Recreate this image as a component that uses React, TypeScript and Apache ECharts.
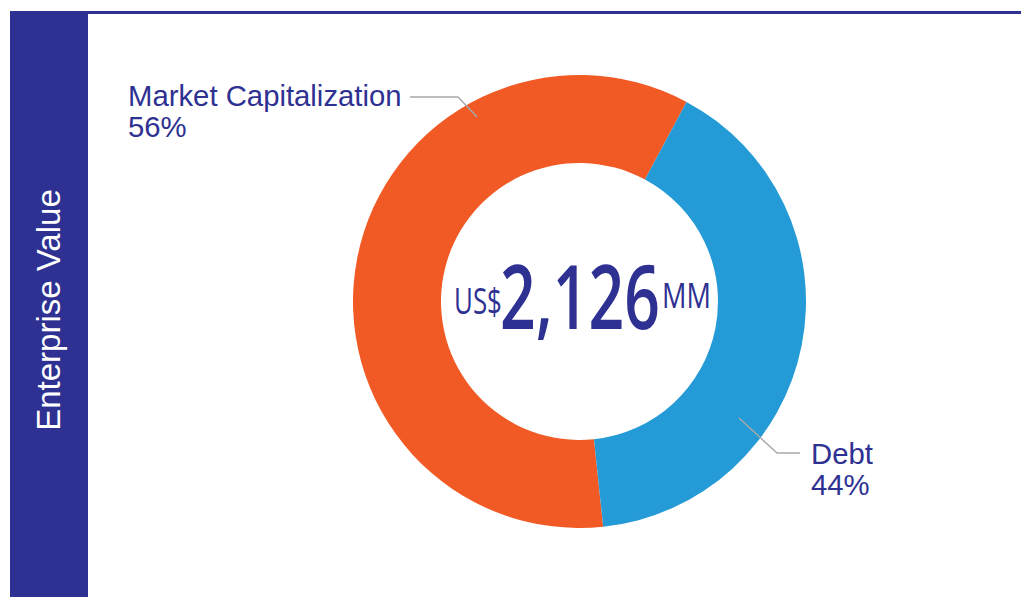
import React, { useEffect, useRef } from "react";
import * as echarts from "echarts";

// ---- data ----
const categories: string[] = ["Market Capitalization", "Debt"];
// shares as drawn in the reference (angles measured off the donut)
const shares: number[] = [59.5, 40.5];
const shareLabels: string[] = ["56%", "44%"];
const sideTitle = "Enterprise Value";
const totalPrefix = "US$";
const totalValue = "2,126";
const totalSuffix = "MM";

// ---- styles / layout ----
const NAVY = "#2e3192";
const COLORS = ["#f15a24", "#249ad6"];
const LINE_GRAY = "#a7a9ac";
const CX = 579.5;
const CY = 301.5;

const labelPlacement = [
  { x: 128, y: 111, align: "left", points: [[477, 117], [458, 97], [410, 97]] },
  { x: 811, y: 469, align: "left", points: [[739, 418], [777, 453], [800, 453]] },
];

export default function App() {
  const ref = useRef<HTMLDivElement>(null);
  useEffect(() => {
    if (!ref.current) return;
    const chart = echarts.init(ref.current, undefined, { renderer: "svg" });
    const option: any = {
      animation: false,
      backgroundColor: "#ffffff",
      graphic: [
        { type: "rect", shape: { x: 10, y: 11, width: 78, height: 586 }, style: { fill: NAVY }, z: 10 },
        { type: "rect", shape: { x: 10, y: 11, width: 1011, height: 3 }, style: { fill: NAVY }, z: 10 },
        {
          type: "text",
          x: 48.5,
          y: 310,
          rotation: Math.PI / 2,
          z: 11,
          style: {
            text: sideTitle,
            fill: "#ffffff",
            font: "33px 'Liberation Sans', Arial, sans-serif",
            align: "center",
            verticalAlign: "middle",
          },
        },
        ...labelPlacement.map((lp) => ({
          type: "polyline",
          z: 12,
          shape: { points: lp.points },
          style: { stroke: LINE_GRAY, lineWidth: 1.5, fill: null },
        })),
        {
          type: "text",
          x: 454,
          y: 299.5,
          scaleX: 0.72,
          z: 11,
          style: {
            text: totalPrefix,
            fill: NAVY,
            font: "400 36px 'Open Sans', sans-serif",
            align: "left",
            verticalAlign: "middle",
          },
        },
        {
          type: "text",
          x: 500,
          y: 294,
          scaleX: 0.71,
          z: 11,
          style: {
            text: totalValue,
            fill: NAVY,
            font: "600 88px 'Open Sans', sans-serif",
            align: "left",
            verticalAlign: "middle",
          },
        },
        {
          type: "text",
          x: 662,
          y: 295,
          scaleX: 0.8,
          z: 11,
          style: {
            text: totalSuffix,
            fill: NAVY,
            font: "400 34px 'Open Sans', sans-serif",
            align: "left",
            verticalAlign: "middle",
          },
        },
      ],
      series: [
        {
          type: "pie",
          center: [CX, CY],
          radius: [138.5, 226.5],
          startAngle: -84,
          clockwise: true,
          avoidLabelOverlap: false,
          itemStyle: { borderWidth: 0 },
          emphasis: { disabled: true },
          label: {
            show: true,
            position: "outside",
            color: NAVY,
            fontFamily: "'Liberation Sans', Arial, sans-serif",
            fontSize: 29.3,
            lineHeight: 31,
            align: "left",
            formatter: (p: any) => `${p.name}\n${shareLabels[p.dataIndex]}`,
          },
          labelLine: { show: false },
          labelLayout: (params: any) => {
            const lp = labelPlacement[params.dataIndex];
            return {
              x: lp.x,
              y: lp.y,
              align: lp.align,
              verticalAlign: "middle",
            };
          },
          data: categories.map((name, i) => ({
            name,
            value: shares[i],
            itemStyle: { color: COLORS[i] },
          })),
        },
      ],
    };
    chart.setOption(option);
    return () => chart.dispose();
  }, []);
  return (
    <div
      ref={ref}
      style={{ position: "absolute", left: 0, top: 0, width: 1021, height: 597 }}
    />
  );
}
